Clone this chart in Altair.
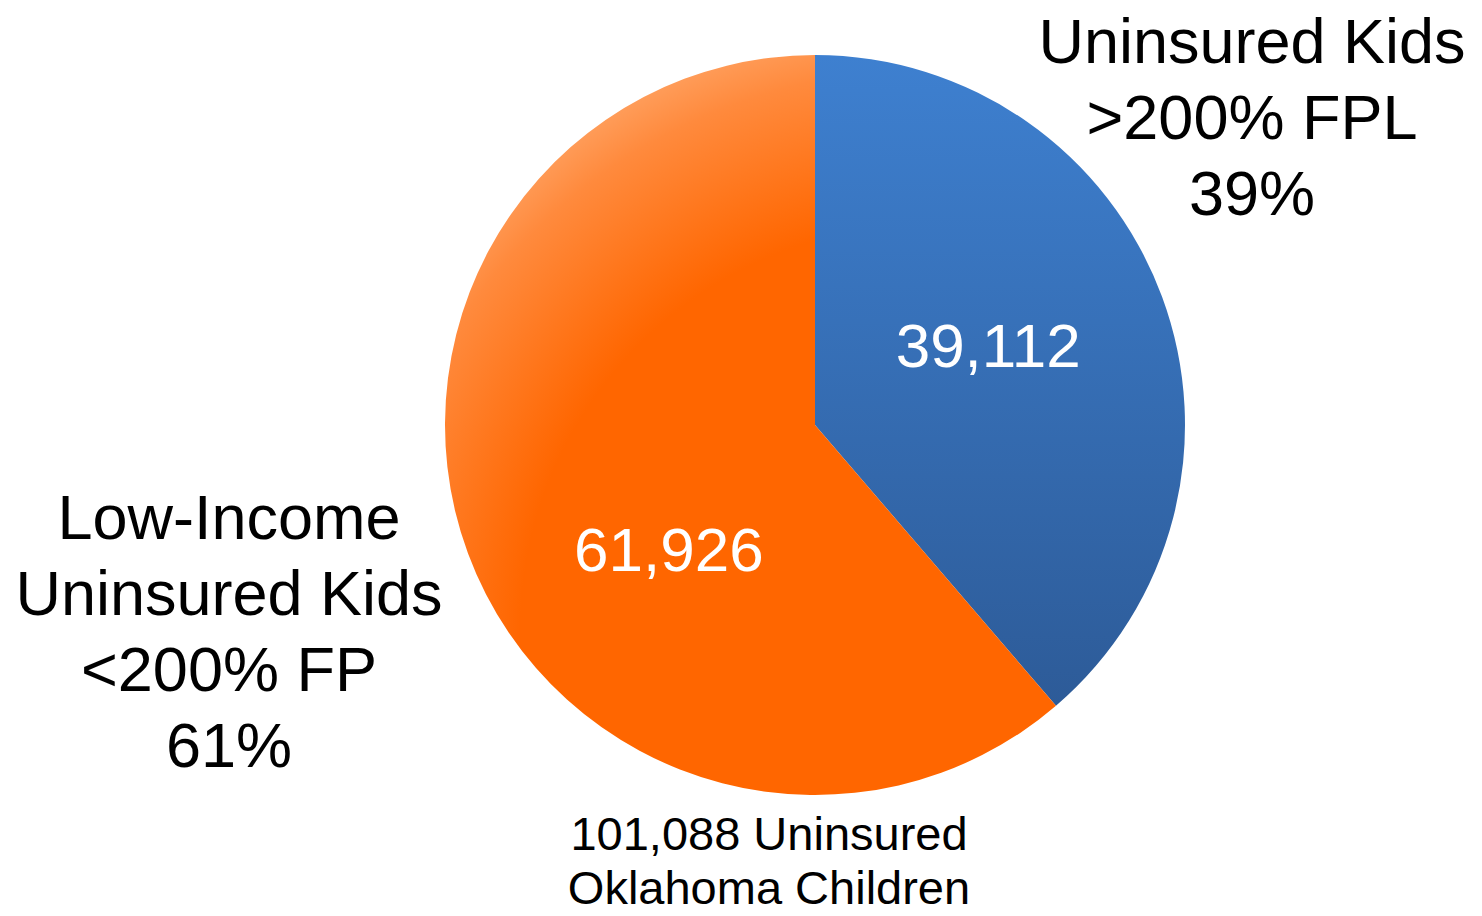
import altair as alt
import pandas as pd

# ---- data ----
groups = ["above_200", "below_200"]
counts = [39112, 61926]
count_labels = ["39,112", "61,926"]
above_lines = ["Uninsured Kids", ">200% FPL", "39%"]
below_lines = ["Low-Income", "Uninsured Kids", "<200% FP", "61%"]
total_lines = ["101,088 Uninsured", "Oklahoma Children"]

df = pd.DataFrame({"group": groups, "count": counts, "label": count_labels, "order": [0, 1]})

FONT = "Liberation Sans"
CX, CY, R = 807, 417, 370

blue_grad = {
    "gradient": "linear", "x1": 0, "y1": 0, "x2": 0, "y2": 1,
    "stops": [{"offset": 0, "color": "#3e80d0"}, {"offset": 1, "color": "#2d5b98"}],
}
orange_grad = {
    "gradient": "radial", "x1": 0.74, "y1": 0.78, "r1": 0, "x2": 0.74, "y2": 0.78, "r2": 0.95,
    "stops": [
        {"offset": 0, "color": "#ff6600"},
        {"offset": 0.58, "color": "#ff6600"},
        {"offset": 0.8, "color": "#ff8a3d"},
        {"offset": 1, "color": "#ffc496"},
    ],
}

theta_scale = alt.Scale(domain=[0, sum(counts)], range=[0, 6.283185307179586])

base = (
    alt.Chart(df)
    .transform_window(end="sum(count)", sort=[alt.SortField("order")], frame=[None, 0])
    .transform_calculate(start="datum.end - datum.count", mid="datum.end - datum.count / 2")
)

def slice_layer(g, fill):
    return base.transform_filter(alt.datum.group == g).mark_arc(outerRadius=R, fill=fill).encode(
        theta=alt.Theta("start:Q", scale=theta_scale),
        theta2="end:Q",
        x=alt.value(CX),
        y=alt.value(CY),
    )

def value_label(g, dx, dy):
    return base.transform_filter(alt.datum.group == g).mark_text(
        radius=190, fontSize=62, color="white", font=FONT, align="center", baseline="middle",
        dx=dx, dy=dy,
    ).encode(
        theta=alt.Theta("mid:Q", scale=theta_scale),
        text="label:N",
        x=alt.value(CX),
        y=alt.value(CY),
    )

def annotation(lines, x, y, size, lh):
    return alt.Chart(df).transform_filter(alt.datum.order == 0).mark_text(
        text=lines, fontSize=size, lineHeight=lh, font=FONT, color="black",
        align="center", baseline="alphabetic",
    ).encode(x=alt.value(x), y=alt.value(y))

chart = alt.layer(
    slice_layer("above_200", blue_grad),
    slice_layer("below_200", orange_grad),
    value_label("above_200", -5, -11),
    value_label("below_200", 32, 61),
    annotation(above_lines, 1244, 55, 63, 76),
    annotation(below_lines, 221, 531, 63, 76),
    annotation(total_lines, 761, 842, 47, 54),
).properties(
    width=1466, height=900, padding=0, autosize="none"
).configure_view(stroke=None)

chart.save("out.html", embed_options={"renderer": "svg", "actions": False})
